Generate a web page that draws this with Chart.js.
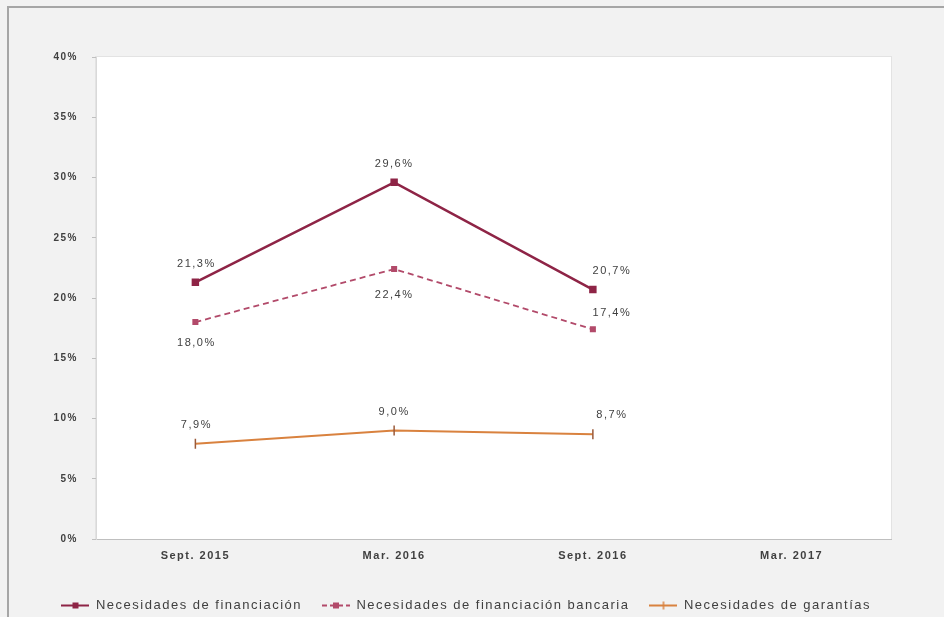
<!DOCTYPE html>
<html>
<head>
<meta charset="utf-8">
<script src="https://cdn.jsdelivr.net/npm/chart.js@4"></script>
<style>
  html, body { margin: 0; padding: 0; background: #f2f2f2; }
  #wrap { width: 944px; height: 617px; position: relative; }
</style>
</head>
<body>
<div id="wrap"><canvas id="necesidadesChart" width="944" height="617"></canvas></div>
<script>
const periodos = ['Sept. 2015', 'Mar. 2016', 'Sept. 2016', 'Mar. 2017'];
const financiacion = [21.3, 29.6, 20.7, null];
const financiacionBancaria = [18.0, 22.4, 17.4, null];
const garantias = [7.9, 9.0, 8.7, null];
const yTicks = [0, 5, 10, 15, 20, 25, 30, 35, 40];

const FONT = '"Liberation Sans", Arial, sans-serif';
const TEXT = '#404040';
const SPACING = '1.5px';

// small line+marker swatch used as the legend symbol
function swatch(color, dash, marker) {
  const c = document.createElement('canvas');
  c.width = 28; c.height = 10;
  const g = c.getContext('2d');
  g.strokeStyle = color; g.lineWidth = 2; g.setLineDash(dash);
  g.beginPath(); g.moveTo(0, 5); g.lineTo(28, 5); g.stroke();
  g.setLineDash([]);
  g.fillStyle = color;
  if (marker === 'rect') g.fillRect(11, 2, 6, 6);
  else { g.lineWidth = 1.5; g.beginPath(); g.moveTo(14, 1); g.lineTo(14, 9); g.stroke(); }
  return c;
}

// the text in this chart is set a bit wide; canvas resets on resize, so reapply
const wideText = {
  id: 'wideText',
  beforeLayout(chart) { chart.ctx.letterSpacing = SPACING; },
  beforeDraw(chart) { chart.ctx.letterSpacing = SPACING; }
};

// percentage labels next to each point; dx/dy per point
const valueLabels = {
  id: 'valueLabels',
  afterDatasetsDraw(chart) {
    const ctx = chart.ctx;
    ctx.save();
    ctx.font = '11px ' + FONT;
    ctx.fillStyle = TEXT;
    ctx.textAlign = 'center';
    ctx.textBaseline = 'middle';
    chart.data.datasets.forEach((ds, i) => {
      chart.getDatasetMeta(i).data.forEach((pt, j) => {
        const v = ds.data[j];
        if (v == null) return;
        const off = ds.labelOffsets[j];
        ctx.fillText(v.toFixed(1).replace('.', ',') + '%', pt.x + off[0], pt.y + off[1]);
      });
    });
    ctx.restore();
  }
};

// grey page frame and white plot area
const frame = {
  id: 'frame',
  beforeDraw(chart) {
    const ctx = chart.ctx;
    const a = chart.chartArea;
    ctx.save();
    ctx.fillStyle = '#f2f2f2';
    ctx.fillRect(0, 0, chart.width, chart.height);
    ctx.fillStyle = '#a6a6a6';
    ctx.fillRect(7, 6, chart.width - 7, 2);
    ctx.fillRect(7, 6, 2, chart.height - 6);
    ctx.fillStyle = '#ffffff';
    ctx.fillRect(a.left, a.top, a.right - a.left, a.bottom - a.top);
    ctx.strokeStyle = '#e3e3e3';
    ctx.lineWidth = 1;
    ctx.strokeRect(a.left - 0.5, a.top - 0.5, a.right - a.left + 1, a.bottom - a.top + 1);
    ctx.restore();
  }
};

const ctx = document.getElementById('necesidadesChart').getContext('2d');
new Chart(ctx, {
  type: 'line',
  data: {
    labels: periodos,
    datasets: [{
      label: 'Necesidades de financiación',
      data: financiacion,
      borderColor: '#8e2446',
      backgroundColor: '#8e2446',
      borderWidth: 2.5,
      pointStyle: 'rect',
      pointRadius: 3.5,
      legendSymbol: swatch('#8e2446', [], 'rect'),
      labelOffsets: [[1, -18], [0, -18], [19, -19]]
    }, {
      label: 'Necesidades de financiación bancaria',
      data: financiacionBancaria,
      borderColor: '#b24a6a',
      backgroundColor: '#b24a6a',
      borderWidth: 1.8,
      borderDash: [6, 4],
      pointStyle: 'rect',
      pointRadius: 3,
      legendSymbol: swatch('#b24a6a', [5, 3], 'rect'),
      labelOffsets: [[1, 21], [0, 26], [19, -16]]
    }, {
      label: 'Necesidades de garantías',
      data: garantias,
      borderColor: '#d9823f',
      backgroundColor: '#9a5a3a',
      borderWidth: 2,
      pointStyle: 'line',
      pointRotation: 90,
      pointRadius: 5,
      pointBorderColor: '#9a5a3a',
      pointBorderWidth: 1.5,
      legendSymbol: swatch('#d9823f', [], 'line'),
      labelOffsets: [[1, -19], [0, -19], [19, -19]]
    }]
  },
  options: {
    responsive: false,
    animation: false,
    layout: { padding: { left: 8, top: 57, right: 53, bottom: -5 } },
    plugins: {
      tooltip: { enabled: false },
      legend: {
        position: 'bottom',
        align: 'end',
        labels: {
          usePointStyle: true,
          pointStyleWidth: 28,
          boxHeight: 10,
          color: TEXT,
          font: { family: FONT, size: 13 },
          padding: 20,
          generateLabels(chart) {
            return chart.data.datasets.map((ds, i) => ({
              text: ds.label,
              pointStyle: ds.legendSymbol,
              fontColor: TEXT,
              datasetIndex: i,
              hidden: false
            }));
          }
        }
      }
    },
    scales: {
      x: {
        offset: true,
        grid: { display: false, drawTicks: false },
        border: { color: '#bfbfbf' },
        ticks: { color: TEXT, font: { family: FONT, size: 11, weight: 'bold' }, padding: 10 },
        afterFit(s) { s.height = 40; }
      },
      y: {
        min: 0, max: 40,
        afterBuildTicks(s) { s.ticks = yTicks.map(v => ({ value: v })); },
        grid: { drawOnChartArea: false, tickLength: 4, color: '#bfbfbf' },
        border: { color: '#d9d9d9' },
        ticks: {
          color: TEXT,
          font: { family: FONT, size: 10, weight: 'bold' },
          padding: 14,
          callback: v => v + '%'
        },
        afterFit(s) { s.width = 88; }
      }
    }
  },
  plugins: [wideText, frame, valueLabels]
});
</script>
</body>
</html>
